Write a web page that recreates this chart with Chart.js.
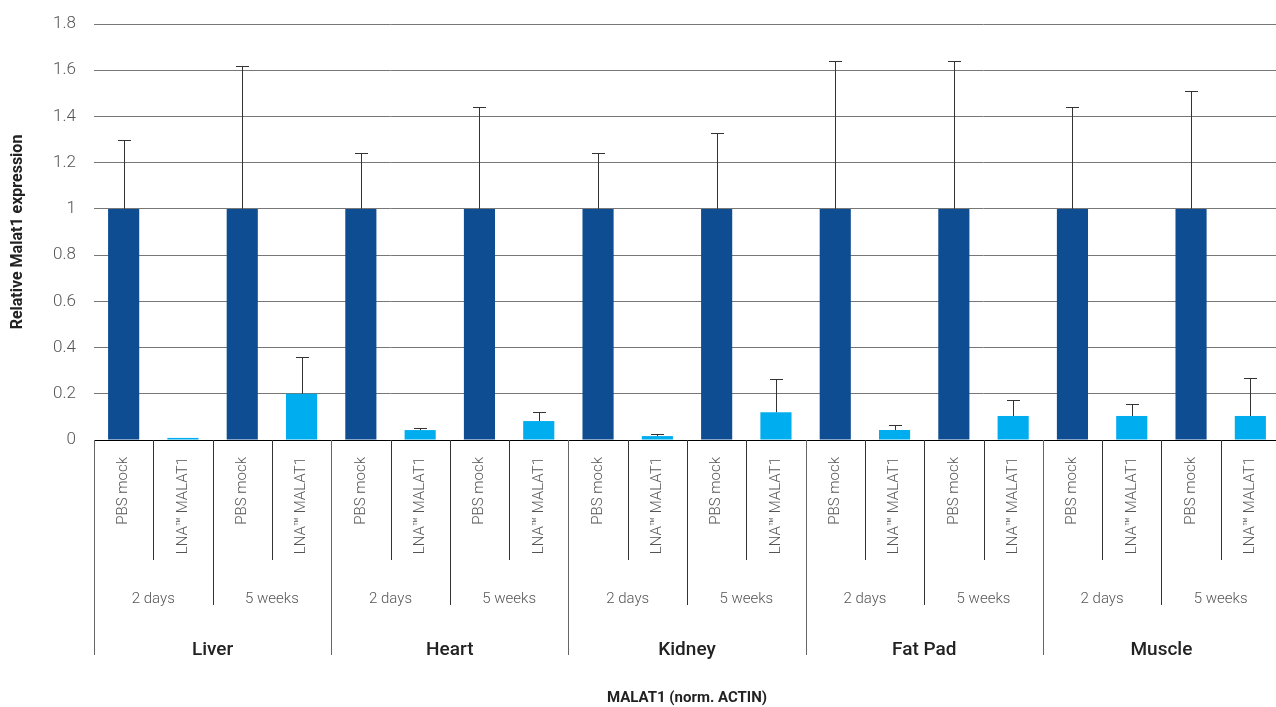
<!DOCTYPE html>
<html>
<head>
<meta charset="utf-8">
<script src="https://cdn.jsdelivr.net/npm/chart.js"></script>
<style>
  html, body { margin: 0; padding: 0; background: #fff; overflow: hidden; }
  #wrap { width: 1280px; height: 707px; }
</style>
</head>
<body>
<div id="wrap"><canvas id="myChart" width="1280" height="707"></canvas></div>
<script>
// data
const tissues = ["Liver", "Heart", "Kidney", "Fat Pad", "Muscle"];
const timepoints = ["2 days", "5 weeks"];
const treatments = ["PBS mock", "LNA™ MALAT1"];

const values = [
  1, 0.009, 1, 0.2,
  1, 0.043, 1, 0.082,
  1, 0.017, 1, 0.12,
  1, 0.043, 1, 0.104,
  1, 0.104, 1, 0.104,
];
const errorTops = [
  1.3, null, 1.62, 0.36,
  1.24, 0.052, 1.44, 0.123,
  1.24, 0.026, 1.33, 0.265,
  1.64, 0.066, 1.64, 0.174,
  1.44, 0.157, 1.51, 0.27,
];
const yTickLabels = ["0", "0.2", "0.4", "0.6", "0.8", "1", "1.2", "1.4", "1.6", "1.8"];

const labels = [];
tissues.forEach((t) => {
  timepoints.forEach((tp) => {
    treatments.forEach((tr) => labels.push(tr));
  });
});

const barColors = labels.map((l) => (l == "PBS mock" ? "#0f4d92" : "#00adef"));

// error bars (upper only)
const errorBars = {
  id: "errorBars",
  afterDatasetsDraw(chart) {
    const ctx = chart.ctx;
    const y = chart.scales.y;
    const meta = chart.getDatasetMeta(0);
    ctx.save();
    ctx.strokeStyle = "#333";
    ctx.lineWidth = 1;
    meta.data.forEach((bar, i) => {
      if (errorTops[i] == null) return;
      const yt = Math.round(y.getPixelForValue(errorTops[i])) + 0.5;
      const xc = Math.round(bar.x) + 0.5;
      ctx.beginPath();
      ctx.moveTo(xc, bar.y);
      ctx.lineTo(xc, yt);
      ctx.moveTo(xc - 6.5, yt);
      ctx.lineTo(xc + 6.5, yt);
      ctx.stroke();
    });
    ctx.restore();
  },
};

// the three rows of category labels under the axis
const groupLabels = {
  id: "groupLabels",
  afterDraw(chart) {
    const ctx = chart.ctx;
    const x = chart.scales.x;
    const y0 = chart.chartArea.bottom;
    const step = x.getPixelForValue(1) - x.getPixelForValue(0);
    ctx.save();

    // separators
    ctx.lineWidth = 1;
    for (let i = 0; i <= labels.length; i++) {
      const px = Math.round(x.getPixelForValue(i) - step / 2) + 0.5;
      let len = 120;
      ctx.strokeStyle = "#333";
      if (i % 2 == 0) len = 165;
      if (i % 4 == 0) { len = 215; ctx.strokeStyle = "#666"; }
      ctx.beginPath();
      ctx.moveTo(px, y0);
      ctx.lineTo(px, y0 + len);
      ctx.stroke();
    }

    // rotated bar labels
    ctx.fillStyle = "#555";
    ctx.font = "300 15px Roboto";
    ctx.textAlign = "right";
    ctx.textBaseline = "middle";
    labels.forEach((l, i) => {
      ctx.save();
      ctx.translate(x.getPixelForValue(i), y0 + 17);
      ctx.rotate(-Math.PI / 2);
      ctx.fillText(l, 0, 0);
      ctx.restore();
    });

    // timepoints
    ctx.textAlign = "center";
    ctx.font = "300 15px Roboto";
    for (let i = 0; i < labels.length; i += 2) {
      const cx = (x.getPixelForValue(i) + x.getPixelForValue(i + 1)) / 2;
      ctx.fillText(timepoints[(i / 2) % 2], cx, y0 + 159);
    }

    // tissues
    ctx.fillStyle = "#222";
    ctx.font = "500 19px Roboto";
    tissues.forEach((t, k) => {
      const cx = (x.getPixelForValue(k * 4) + x.getPixelForValue(k * 4 + 3)) / 2;
      ctx.fillText(t, cx, y0 + 210);
    });
    ctx.restore();
  },
};

const config = {
  type: "bar",
  data: {
    labels: labels,
    datasets: [
      {
        data: values,
        backgroundColor: barColors,
        barPercentage: 0.525,
        categoryPercentage: 1,
      },
    ],
  },
  plugins: [errorBars, groupLabels],
  options: {
    responsive: false,
    animation: false,
    layout: { padding: { top: 24, left: 0, right: 0, bottom: 0 } },
    plugins: {
      legend: { display: false },
      tooltip: { enabled: false },
    },
    scales: {
      x: {
        grid: { display: false },
        border: { display: true, color: "#000", width: 1 },
        ticks: { display: false },
        title: {
          display: true,
          text: "MALAT1 (norm. ACTIN)",
          color: "#222",
          font: { family: "Roboto", size: 15, weight: "bold" },
          padding: { top: 4, bottom: 0 },
        },
        afterFit: (scale) => { scale.height = 267; },
      },
      y: {
        min: 0,
        max: 1.8,
        border: { display: false },
        grid: { color: "#777", lineWidth: 1, drawTicks: false },
        ticks: {
          stepSize: 0.2,
          padding: 18,
          color: "#555",
          font: { family: "Roboto", size: 17, weight: "300" },
          callback: (v, i) => yTickLabels[i],
        },
        title: {
          display: true,
          text: "Relative Malat1 expression",
          color: "#222",
          font: { family: "Roboto", size: 16, weight: "bold" },
          padding: { top: 8, bottom: 0 },
        },
        afterFit: (scale) => {
          scale.width = 94;
          scale.paddingTop = 0;
          scale.paddingBottom = 0;
        },
      },
    },
  },
};

myChart = new Chart("myChart", config);
</script>
</body>
</html>
